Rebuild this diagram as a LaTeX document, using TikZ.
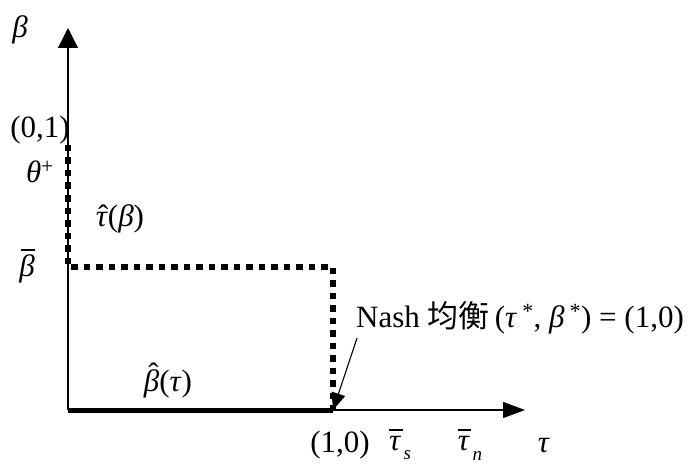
\documentclass[tikz,border=0pt]{standalone}
\usepackage{fontspec}
\setmainfont{Liberation Serif}
\newfontfamily\cjk{Noto Sans CJK SC}
\usetikzlibrary{arrows.meta}
\newcommand{\gk}[1]{\textit{#1}}
\newcommand{\hatg}[3]{\ooalign{\gk{#1}\cr\hidewidth\kern#3\raisebox{#2}{ˆ}\hidewidth\cr}}
\newcommand{\barg}[3]{\ooalign{\gk{#1}\cr\hidewidth\kern#3\rule[#2]{0.45em}{0.05em}\hidewidth\cr}}
\newcommand{\lowsub}[1]{\kern0.08em\raisebox{-0.32em}{\fontsize{19}{19}\selectfont\gk{#1}}}
\begin{document}
\begin{tikzpicture}[x=1pt,y=-1pt,
  lbl/.style={inner sep=0pt,anchor=center,font=\fontsize{31}{35}\selectfont},
  axisline/.style={line width=1.3pt},
  dotline/.style={line width=6.5pt,dash pattern=on 6.5pt off 6pt},
  solidline/.style={line width=5pt},
  pointer/.style={line width=1.1pt,-{Triangle[length=17pt,width=14pt]}}]
\useasboundingbox (0,0) rectangle (691,476);
% coordinates
\coordinate (O) at (68,410);
\coordinate (ytip) at (68,28);
\coordinate (xtip) at (525,410);
\coordinate (top) at (68,145);
\coordinate (corner) at (68,267);
\coordinate (rc) at (333,267);
\coordinate (eq) at (333,410);
% axes
\draw[axisline,-{Triangle[length=20pt,width=20pt]}] (O) -- (ytip);
\draw[axisline,-{Triangle[length=22pt,width=16pt]}] (O) -- (xtip);
% curves
\draw[dotline] (top) -- (corner) -- (rc) -- (eq);
\draw[solidline] (O) -- (eq);
% labels
\node[lbl] (beta) at (20,30) {\gk{β}};
\node[lbl] (p01) at (40,130) {(0,1)};
\node[lbl] (theta) at (40,172) {\gk{θ}\textsuperscript{+}};
\node[lbl] (tauhat) at (120,219) {\hatg{τ}{0em}{0.08em}(\gk{β})};
\node[lbl] (betabar) at (27,266) {\barg{β}{0.85em}{0.06em}};
\node[lbl] (betahat) at (168,384) {\hatg{β}{0.22em}{0.12em}(\gk{τ})};
\node[lbl,anchor=west] (nash) at (356,318) {Nash {\cjk 均衡}\,(\gk{τ}\,\textsuperscript{*}, \gk{β}\,\textsuperscript{*}) = (1,0)};
\node[lbl] (p10) at (340,445) {(1,0)};
\node[lbl] (taus) at (400,448) {\barg{τ}{0.62em}{0.03em}\lowsub{s}};
\node[lbl] (taun) at (470,448) {\barg{τ}{0.62em}{0.03em}\lowsub{n}};
\node[lbl] (tau) at (544,446) {\gk{τ}};
% pointer
\coordinate (ptail) at (357,338);
\draw[pointer] (ptail) -- (eq);
\end{tikzpicture}
\end{document}
